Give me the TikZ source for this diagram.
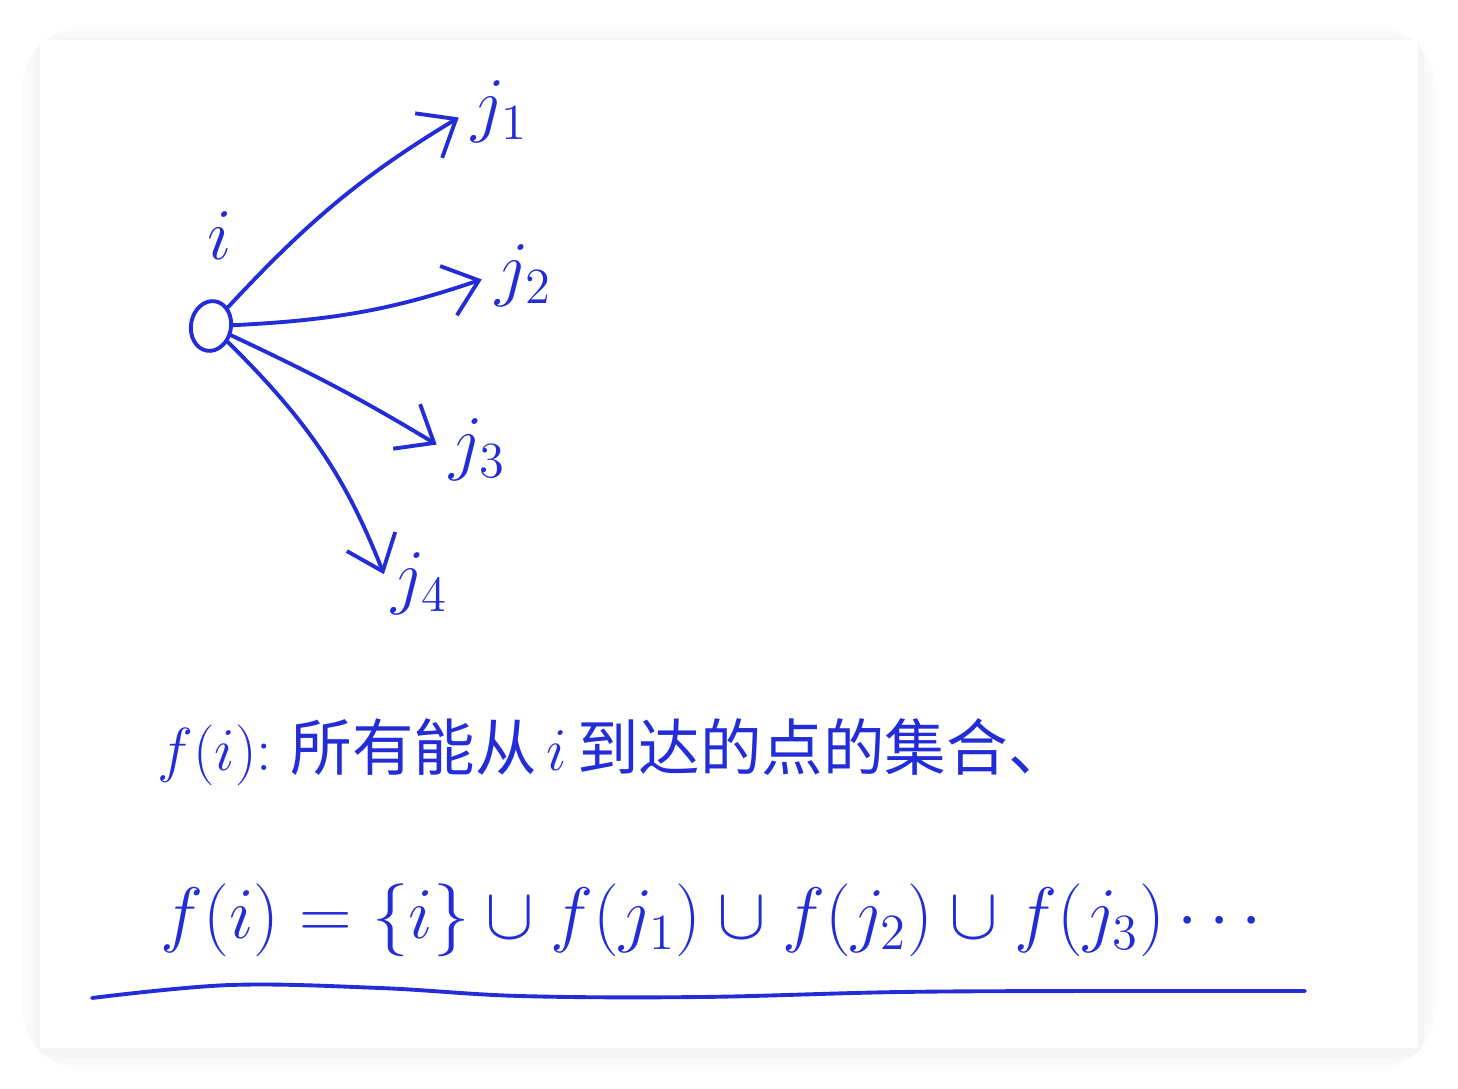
\documentclass[tikz,border=0pt]{standalone}
\usepackage{fontspec}
\newfontfamily\cjk{Noto Sans CJK SC}
\usetikzlibrary{arrows.meta,shapes.geometric}
\definecolor{ink}{RGB}{35,45,215}

\begin{document}
\begin{tikzpicture}[
  x = 0.01cm,
  y = -0.01cm,
  pen/.style  = {draw=ink, line width=1.1pt, line cap=round, line join=round},
  edge/.style = {pen, -{Straight Barb[length=3.2mm, width=5.2mm]}, shorten >=3pt},
  lbl/.style  = {text=ink, inner sep=1pt, font=\fontsize{20}{24}\selectfont}
]
  \def\W{1458} \def\H{1088}
  \useasboundingbox (0,0) rectangle (\W,\H);

  % 배경
  \fill[white] (0,0) rectangle (\W,\H);
  \foreach \s/\c in {18/1.5, 12/2.5, 6/4}
    \fill[black!\c, rounded corners=\s] ({40-\s},{44-\s}) rectangle ({1418+\s},{1052+\s});
  \fill[white] (40,40) rectangle (1418,1048);

  % 노드
  \node (i) [pen, ellipse, rotate=-10, minimum width=0.4cm, minimum height=0.5cm, inner sep=0pt] at (211,326) {};
  \node (li) [lbl] at (220,236) {$i$};
  \node (j1) [lbl] at (500,112) {$j_1$};
  \node (j2) [lbl] at (524,276) {$j_2$};
  \node (j3) [lbl] at (478,450) {$j_3$};
  \node (j4) [lbl] at (420,584) {$j_4$};

  % 화살표
  \draw[edge] (i) to[bend left=8]   (j1.west);
  \draw[edge] (i) to[bend right=8]  (j2.west);
  \draw[edge] (i) to[bend left=3]   (j3.west);
  \draw[edge] (i) to[bend left=12]  (j4.west);

  % 정의
  \node (def) [text=ink, anchor=west, font=\fontsize{17.5}{21}\selectfont] at (145,752)
    {$f(i)$:\ {\cjk 所有能从}$\,i\,${\cjk 到达的点的集合、}};
  \node (eq) [text=ink, anchor=west, font=\fontsize{20}{24}\selectfont] at (148,920)
    {$f(i) = \{i\} \cup f(j_1) \cup f(j_2) \cup f(j_3) \cdots$};

  % 밑줄
  \draw[pen] plot[smooth, tension=0.6] coordinates
    {(92,998) (230,985) (380,988) (520,996) (700,997) (900,992) (1100,991) (1305,991)};
\end{tikzpicture}
\end{document}
